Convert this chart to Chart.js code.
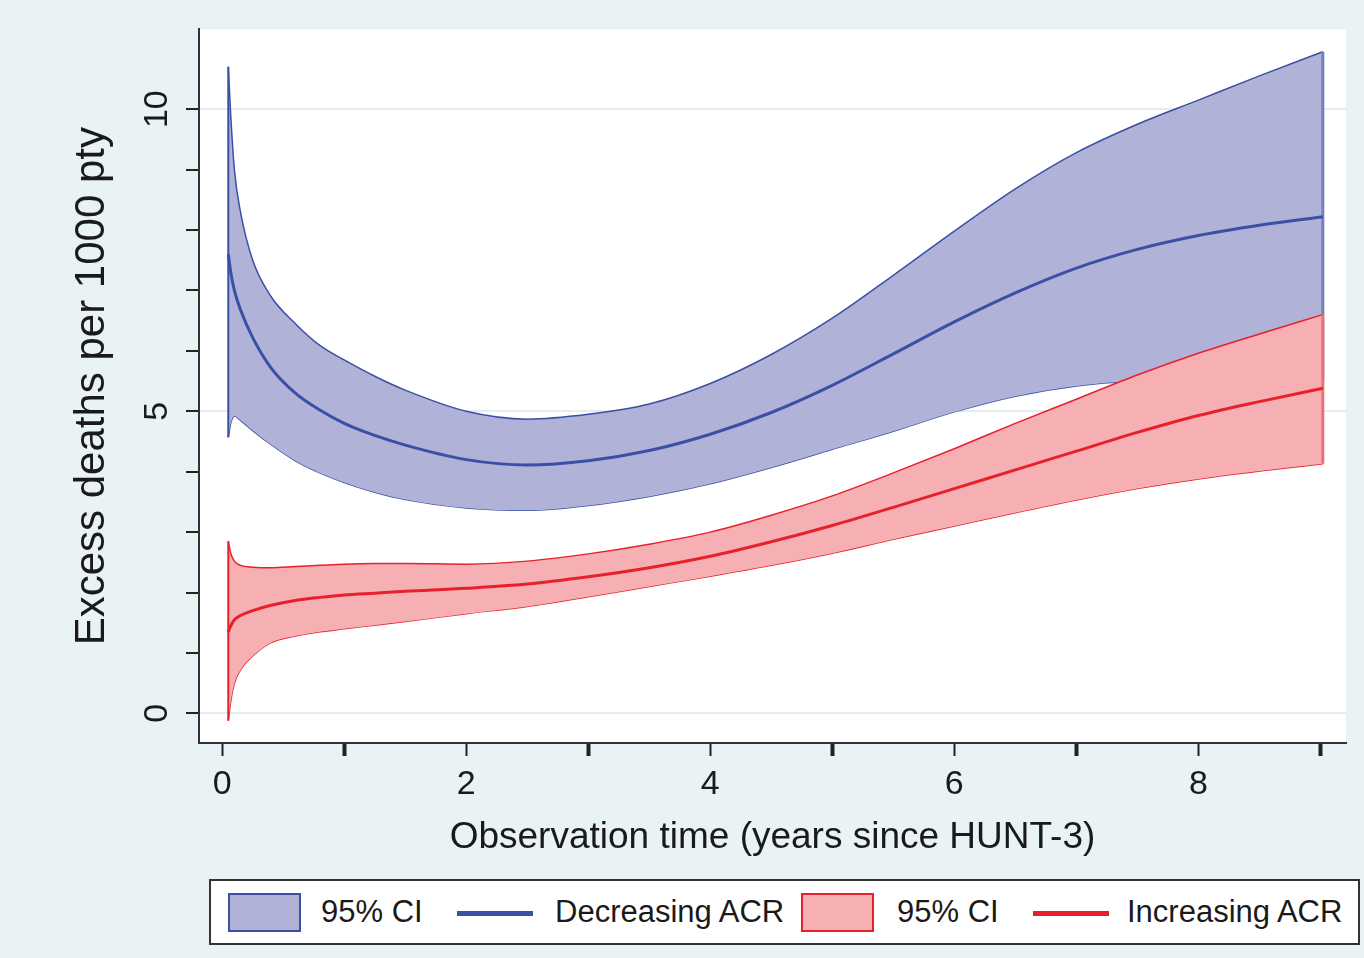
<!DOCTYPE html>
<html>
<head>
<meta charset="utf-8">
<script src="https://cdn.jsdelivr.net/npm/chart.js@4/dist/chart.umd.min.js"></script>
<style>
  body { margin: 0; background: #e9f2f4; }
  #wrap { position: relative; width: 1364px; height: 958px; background: #e9f2f4; font-family: "Liberation Sans", Arial, sans-serif; }
  #legend { position: absolute; left: 209px; top: 879px; width: 1147px; height: 62px; border: 2px solid #333; background: #fff; }
  #legend .patch { position: absolute; top: 12px; width: 69px; height: 35px; }
  #legend .line { position: absolute; top: 30px; width: 76px; height: 5px; }
  #legend .txt { position: absolute; top: 13px; font-size: 31px; line-height: 36px; color: #1a1a1a; white-space: nowrap; }
</style>
</head>
<body>
<div id="wrap">
  <canvas id="chart" width="1364" height="958"></canvas>
  <div id="legend"></div>
</div>
<script>
// years since HUNT-3
const years = [0.05, 0.07, 0.1, 0.15, 0.25, 0.4, 0.6, 0.8, 1, 1.25, 1.5, 2, 2.5, 3, 3.5, 4, 4.5, 5, 5.5, 6, 6.5, 7, 7.5, 8, 8.5, 9.02];

// Decreasing ACR
const decUpper = [10.7, 9.9, 9.0, 8.3, 7.5, 6.9, 6.45, 6.09, 5.85, 5.58, 5.35, 5.0, 4.87, 4.95, 5.12, 5.46, 5.94, 6.54, 7.25, 7.98, 8.68, 9.28, 9.75, 10.15, 10.55, 10.95];
const decMean = [7.6, 7.3, 7.0, 6.68, 6.22, 5.72, 5.3, 5.02, 4.8, 4.6, 4.44, 4.2, 4.11, 4.18, 4.35, 4.62, 4.98, 5.43, 5.95, 6.48, 6.96, 7.37, 7.68, 7.91, 8.08, 8.22];
const decLower = [4.57, 4.8, 4.92, 4.85, 4.68, 4.45, 4.18, 3.98, 3.82, 3.66, 3.54, 3.4, 3.36, 3.44, 3.59, 3.8, 4.07, 4.37, 4.67, 4.99, 5.25, 5.42, 5.5, 5.52, 5.53, 5.53];

// Increasing ACR
const incUpper = [2.85, 2.65, 2.52, 2.45, 2.42, 2.41, 2.43, 2.45, 2.47, 2.48, 2.48, 2.47, 2.52, 2.64, 2.8, 3.0, 3.28, 3.6, 3.98, 4.38, 4.8, 5.2, 5.6, 5.96, 6.28, 6.6];
const incMean = [1.35, 1.45, 1.55, 1.62, 1.7, 1.79, 1.87, 1.92, 1.96, 1.99, 2.02, 2.07, 2.14, 2.26, 2.41, 2.6, 2.84, 3.11, 3.41, 3.72, 4.03, 4.34, 4.65, 4.93, 5.16, 5.38];
const incLower = [-0.12, 0.2, 0.5, 0.72, 0.95, 1.17, 1.28, 1.35, 1.4, 1.46, 1.52, 1.65, 1.77, 1.93, 2.1, 2.27, 2.45, 2.65, 2.88, 3.1, 3.32, 3.53, 3.72, 3.88, 4.01, 4.13];

const xTickLabels = [0, 2, 4, 6, 8];
const yTickLabels = [0, 5, 10];
const legendLabels = ['95% CI', 'Decreasing ACR', '95% CI', 'Increasing ACR'];

const blueLine = '#3a50a5';
const blueFill = '#b0b2d8';
const redLine = '#e8202a';
const redFill = '#f6b0b4';

const pts = (ys) => years.map((x, i) => ({ x: x, y: ys[i] }));
const last = years.length - 1;
// vertical ends of the bands
const edge = (lo, hi, i) => [{ x: years[i], y: lo[i] }, { x: years[i], y: hi[i] }];

const plotBg = {
    id: 'plotBg',
    beforeDraw(chart) {
        const { ctx, chartArea: a } = chart;
        ctx.save();
        ctx.fillStyle = '#ffffff';
        ctx.fillRect(a.left, a.top, a.right - a.left, a.bottom - a.top);
        ctx.restore();
    }
};

const font = '"Liberation Sans", Arial, sans-serif';

new Chart(document.getElementById('chart'), {
    type: 'line',
    data: {
        datasets: [
            { data: pts(decLower), borderColor: blueLine, borderWidth: 1.5, fill: false, order: 9 },
            { data: pts(decUpper), borderColor: blueLine, borderWidth: 1.5, backgroundColor: blueFill, fill: 0, order: 8 },
            { data: edge(decLower, decUpper, 0), borderColor: blueLine, borderWidth: 2, order: 7 },
            { data: edge(decLower, decUpper, last), borderColor: '#7880bb', borderWidth: 3, order: 7 },
            { data: pts(decMean), borderColor: blueLine, borderWidth: 3, order: 6 },
            { data: pts(incLower), borderColor: redLine, borderWidth: 1.5, fill: false, order: 5 },
            { data: pts(incUpper), borderColor: redLine, borderWidth: 1.5, backgroundColor: redFill, fill: 5, order: 4 },
            { data: edge(incLower, incUpper, 0), borderColor: redLine, borderWidth: 2, order: 3 },
            { data: edge(incLower, incUpper, last), borderColor: '#ee7077', borderWidth: 3, order: 3 },
            { data: pts(incMean), borderColor: redLine, borderWidth: 3, order: 2 }
        ]
    },
    options: {
        responsive: false,
        animation: false,
        devicePixelRatio: 1,
        layout: { padding: { left: 0, right: 18, top: 22, bottom: 98 } },
        elements: {
            point: { radius: 0 },
            line: { cubicInterpolationMode: 'monotone' }
        },
        plugins: {
            legend: { display: false },
            tooltip: { enabled: false },
            filler: { drawTime: 'beforeDatasetDraw' }
        },
        scales: {
            x: {
                type: 'linear',
                min: -0.19,
                max: 9.21,
                afterBuildTicks: (scale) => {
                    const t = [];
                    for (let v = 0; v <= 9; v++) t.push({ value: v });
                    scale.ticks = t;
                },
                afterFit: (scale) => { scale.height = 117; },
                border: { color: '#333', width: 2 },
                grid: {
                    drawOnChartArea: false,
                    tickLength: 13,
                    tickColor: '#222',
                    tickWidth: (ctx) => (ctx.tick && ctx.tick.value % 2 ? 4 : 2)
                },
                ticks: {
                    autoSkip: false,
                    maxRotation: 0,
                    padding: 8,
                    color: '#1a1a1a',
                    font: { family: font, size: 34 },
                    callback: (v) => (xTickLabels.includes(v) ? String(v) : '')
                },
                title: {
                    display: true,
                    text: 'Observation time (years since HUNT-3)',
                    color: '#1a1a1a',
                    font: { family: font, size: 37, lineHeight: 1.2 },
                    padding: { top: 0, bottom: 0 }
                }
            },
            y: {
                type: 'linear',
                min: -0.49,
                max: 11.32,
                afterBuildTicks: (scale) => {
                    const t = [];
                    for (let v = 0; v <= 10; v++) t.push({ value: v });
                    scale.ticks = t;
                },
                afterFit: (scale) => { scale.width = 199; },
                border: { color: '#333', width: 2 },
                grid: {
                    color: (ctx) => (ctx.tick && yTickLabels.includes(ctx.tick.value) ? '#e3eef1' : 'rgba(0,0,0,0)'),
                    lineWidth: 2,
                    tickLength: 13,
                    tickColor: '#222',
                    tickWidth: 2
                },
                ticks: {
                    autoSkip: false,
                    minRotation: 90,
                    maxRotation: 90,
                    crossAlign: 'center',
                    padding: 9,
                    color: '#1a1a1a',
                    font: { family: font, size: 34 },
                    callback: (v) => (yTickLabels.includes(v) ? String(v) : '')
                },
                title: {
                    display: true,
                    text: 'Excess deaths per 1000 pty',
                    color: '#1a1a1a',
                    font: { family: font, size: 42, lineHeight: 1.2 },
                    padding: { top: 67, bottom: 0 }
                }
            }
        }
    },
    plugins: [plotBg]
});

// legend box under the plot
const legend = document.getElementById('legend');
const items = [
    { kind: 'patch', left: 17, fill: blueFill, stroke: blueLine },
    { kind: 'txt', left: 110, text: legendLabels[0] },
    { kind: 'line', left: 246, stroke: blueLine },
    { kind: 'txt', left: 344, text: legendLabels[1] },
    { kind: 'patch', left: 590, fill: redFill, stroke: redLine },
    { kind: 'txt', left: 686, text: legendLabels[2] },
    { kind: 'line', left: 822, stroke: redLine },
    { kind: 'txt', left: 916, text: legendLabels[3] }
];
items.forEach(it => {
    const el = document.createElement('div');
    el.className = it.kind;
    el.style.left = it.left + 'px';
    if (it.kind === 'patch') {
        el.style.background = it.fill;
        el.style.border = '2px solid ' + it.stroke;
    } else if (it.kind === 'line') {
        el.style.background = it.stroke;
    } else {
        el.textContent = it.text;
    }
    legend.appendChild(el);
});
</script>
</body>
</html>
